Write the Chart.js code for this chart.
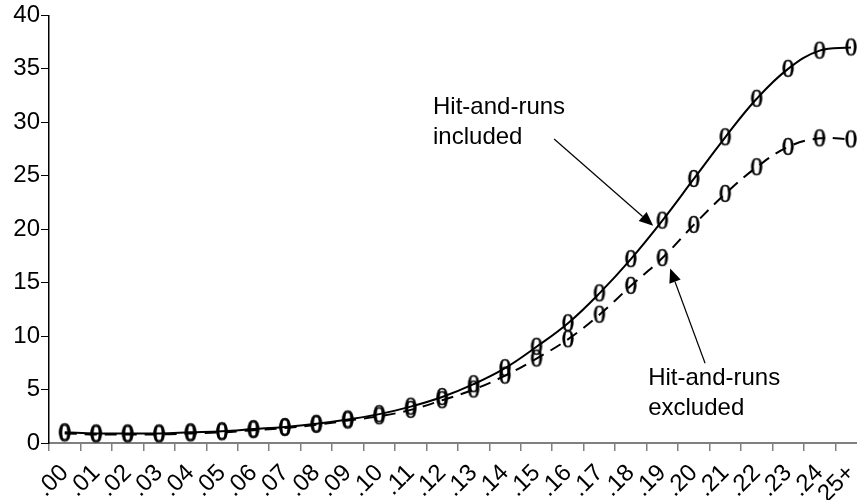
<!DOCTYPE html>
<html>
<head>
<meta charset="utf-8">
<script src="https://cdn.jsdelivr.net/npm/chart.js@4/dist/chart.umd.min.js"></script>
<style>
  html, body { margin: 0; padding: 0; background: #fff; overflow: hidden; }
</style>
</head>
<body>
<canvas id="chart" width="857" height="500"></canvas>
<script>
// Category labels (x axis)
const xLabels = ['.00', '.01', '.02', '.03', '.04', '.05', '.06', '.07', '.08', '.09',
  '.10', '.11', '.12', '.13', '.14', '.15', '.16', '.17', '.18', '.19',
  '.20', '.21', '.22', '.23', '.24', '25+'];

// Hit-and-runs included (solid)
const included = [1.0, 0.9, 0.9, 0.9, 1.0, 1.1, 1.3, 1.5, 1.8, 2.2,
  2.7, 3.4, 4.3, 5.5, 7.0, 9.0, 11.2, 14.0, 17.2, 20.8,
  24.7, 28.6, 32.2, 35.0, 36.7, 37.0];

// Hit-and-runs excluded (dashed)
const excluded = [0.9, 0.8, 0.8, 0.8, 0.9, 1.0, 1.2, 1.4, 1.7, 2.1,
  2.5, 3.1, 4.0, 5.0, 6.3, 7.9, 9.7, 12.0, 14.7, 17.3,
  20.4, 23.3, 25.8, 27.7, 28.5, 28.4];

const yTicks = [0, 5, 10, 15, 20, 25, 30, 35, 40];

// marker: a "0" glyph
function zeroMarker() {
  const c = document.createElement('canvas');
  c.width = 18; c.height = 26;
  const g = c.getContext('2d');
  g.fillStyle = '#000';
  g.strokeStyle = '#000';
  g.lineWidth = 0.5;
  g.font = '25px "Liberation Serif"';
  g.textAlign = 'center';
  g.textBaseline = 'middle';
  g.fillText('0', 9, 14);
  g.strokeText('0', 9, 14);
  return c;
}
const marker = zeroMarker();

// annotations in data units
const notes = [
  { lines: ['Hit-and-runs', 'included'], x: 11.71, y: [30.77, 27.97],
    arrow: { from: [15.56, 28.44], to: [18.71, 20.33] } },
  { lines: ['Hit-and-runs', 'excluded'], x: 18.55, y: [5.41, 2.61],
    arrow: { from: [20.36, 7.46], to: [19.25, 16.32] } }
];

const notesPlugin = {
  id: 'notes',
  afterDraw(chart) {
    const ctx = chart.ctx, xs = chart.scales.x, ys = chart.scales.y;
    ctx.save();
    ctx.fillStyle = '#000';
    ctx.strokeStyle = '#000';
    ctx.font = '24px Arial';
    ctx.textBaseline = 'alphabetic';
    notes.forEach(n => {
      n.lines.forEach((t, i) => ctx.fillText(t, xs.getPixelForValue(n.x), ys.getPixelForValue(n.y[i])));
      const x1 = xs.getPixelForValue(n.arrow.from[0]), y1 = ys.getPixelForValue(n.arrow.from[1]);
      const x2 = xs.getPixelForValue(n.arrow.to[0]), y2 = ys.getPixelForValue(n.arrow.to[1]);
      const a = Math.atan2(y2 - y1, x2 - x1);
      const hl = 14, hw = 6;
      const bx = x2 - hl * Math.cos(a), by = y2 - hl * Math.sin(a);
      ctx.lineWidth = 1.2;
      ctx.beginPath(); ctx.moveTo(x1, y1); ctx.lineTo(bx, by); ctx.stroke();
      ctx.beginPath();
      ctx.moveTo(x2, y2);
      ctx.lineTo(bx + hw * Math.sin(a), by - hw * Math.cos(a));
      ctx.lineTo(bx - hw * Math.sin(a), by + hw * Math.cos(a));
      ctx.closePath(); ctx.fill();
    });
    ctx.restore();
  }
};

const toPoints = arr => arr.map((v, i) => ({ x: i, y: v }));

new Chart(document.getElementById('chart'), {
  type: 'line',
  data: {
    datasets: [{
      label: 'Hit-and-runs included',
      data: toPoints(included),
      borderColor: '#000',
      borderWidth: 2,
      tension: 0.4,
      pointStyle: marker,
      pointRadius: 9
    }, {
      label: 'Hit-and-runs excluded',
      data: toPoints(excluded),
      borderColor: '#000',
      borderWidth: 2,
      borderDash: [12, 8],
      tension: 0.4,
      pointStyle: marker,
      pointRadius: 9
    }]
  },
  options: {
    responsive: false,
    animation: false,
    layout: { autoPadding: false, padding: { top: 14, right: 0, left: 0, bottom: 0 } },
    plugins: { legend: { display: false }, tooltip: { enabled: false } },
    scales: {
      x: {
        type: 'linear',
        min: -0.5,
        max: 25.19,
        afterBuildTicks: s => { s.ticks = xLabels.map((_, i) => ({ value: i })); },
        afterFit: s => { s.height = 57; s.paddingLeft = 0; s.paddingRight = 0; },
        ticks: {
          callback: v => xLabels[v],
          autoSkip: false,
          maxRotation: 45,
          minRotation: 45,
          padding: 8,
          color: '#000',
          font: { family: 'Arial', size: 24 }
        },
        grid: { offset: true, drawOnChartArea: false, tickLength: 8, color: '#808080', lineWidth: 1.5 },
        border: { color: '#808080', width: 2 }
      },
      y: {
        min: 0,
        max: 40,
        afterBuildTicks: s => { s.ticks = yTicks.map(v => ({ value: v })); },
        afterFit: s => { s.width = 49; },
        ticks: {
          padding: 1,
          color: '#000',
          font: { family: 'Arial', size: 24 }
        },
        grid: { drawOnChartArea: false, tickLength: 8, color: '#000', lineWidth: 1 },
        border: { color: '#000', width: 1.5 }
      }
    }
  },
  plugins: [notesPlugin]
});
</script>
</body>
</html>
